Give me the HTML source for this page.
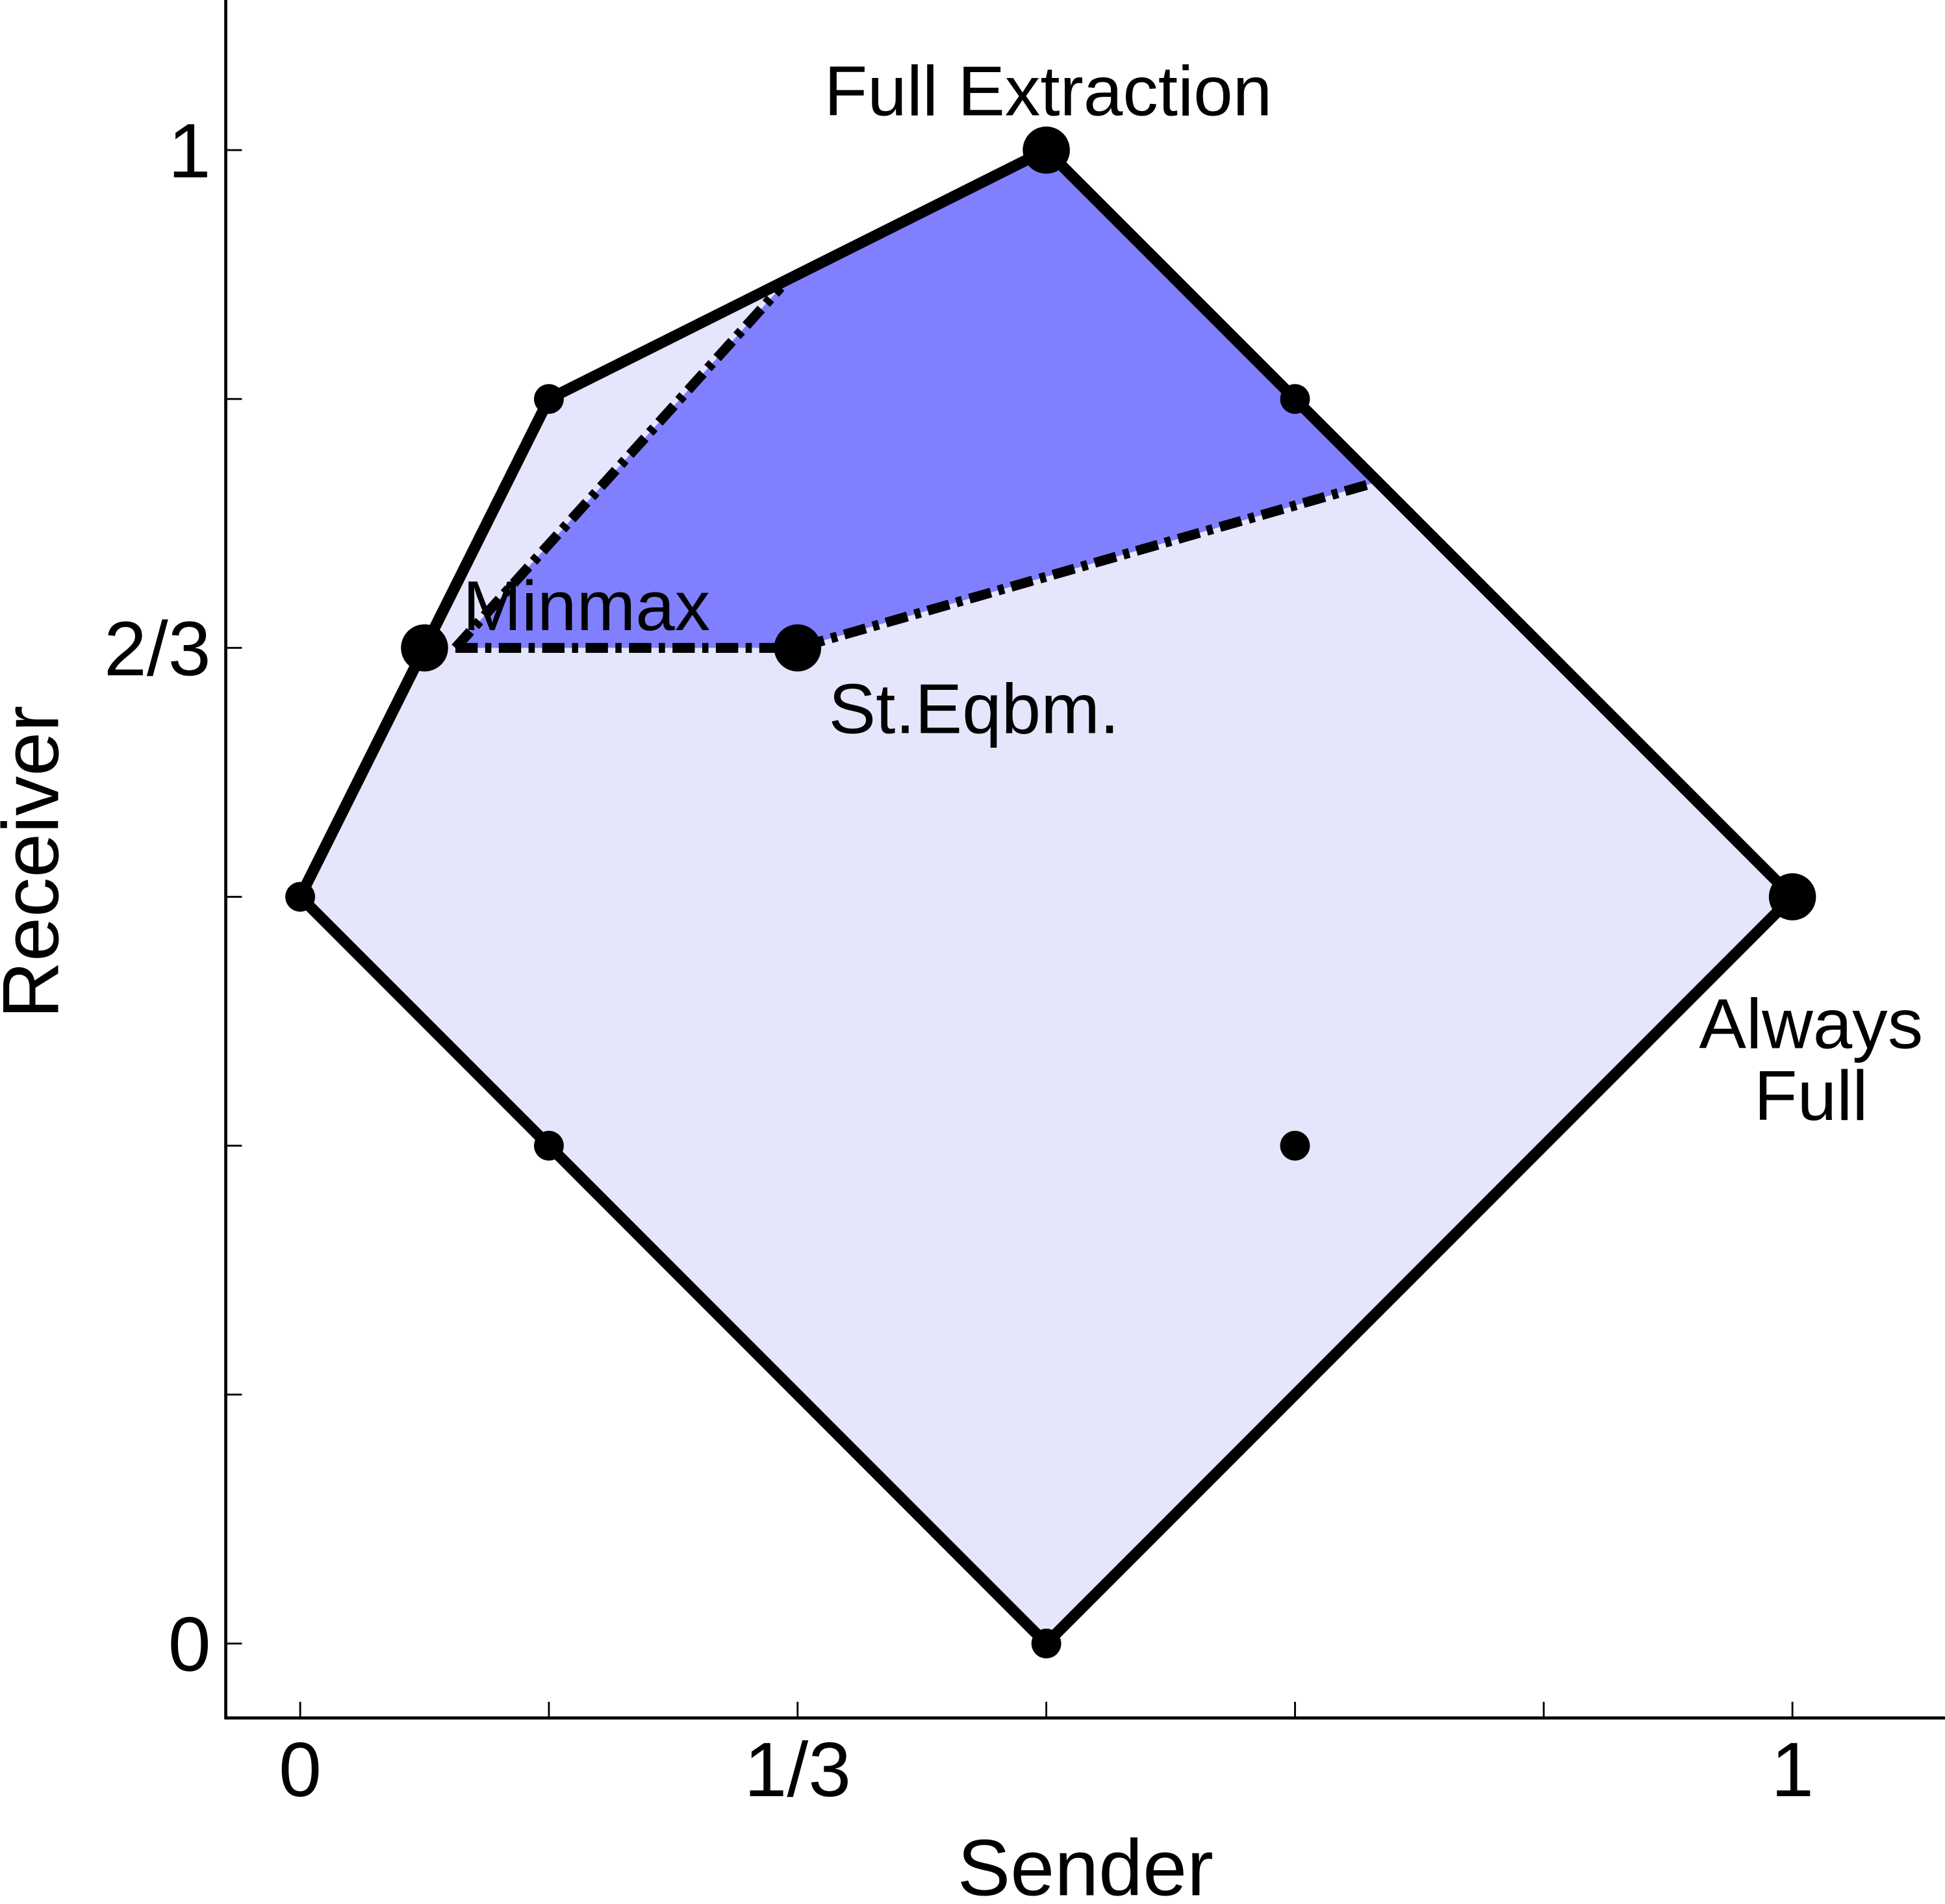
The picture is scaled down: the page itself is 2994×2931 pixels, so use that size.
<!DOCTYPE html>
<html><head><meta charset="utf-8"><style>
html,body{margin:0;padding:0;background:#fff;}
svg{display:block;font-family:"Liberation Sans",sans-serif;}
</style></head><body>
<svg id="chart" width="2994" height="2931" viewBox="0 0 1568 1535" xmlns="http://www.w3.org/2000/svg">
<g id="regions"></g>
<g id="axes"></g>
<g id="marks"></g>
<g id="labels"></g>
</svg>
<script>
// data (sender, receiver payoffs)
const outerS = [0, 1/12, 1/6, 1/2, 1, 1/2];
const outerR = [1/2, 2/3, 5/6, 1, 1/2, 0];
const innerS = [0.104, 0.322, 1/2, 0.719, 1/3];
const innerR = [2/3, 0.908, 1, 0.777, 2/3];
const boundaryS = [0.104, 0.322];
const boundaryR = [2/3, 0.908];
const boundary2S = [0.104, 1/3, 0.719];
const boundary2R = [2/3, 2/3, 0.777];
const bigS = [1/12, 1/3, 1/2, 1];
const bigR = [2/3, 2/3, 1, 1/2];
const smallS = [0, 1/6, 2/3, 1/2, 1/6, 2/3];
const smallR = [1/2, 5/6, 5/6, 0, 1/3, 1/3];
const xTickVals = [0, 1/6, 1/3, 1/2, 2/3, 5/6, 1];
const xTickLabels = ["0", "", "1/3", "", "", "", "1"];
const yTickVals = [0, 1/6, 1/3, 1/2, 2/3, 5/6, 1];
const yTickLabels = ["0", "", "", "", "2/3", "", "1"];

const NS = "http://www.w3.org/2000/svg";
const X = s => 242 + s * 1203;
const Y = r => 1325 - r * 1204;
function el(tag, attrs, parent, text) {
  const e = document.createElementNS(NS, tag);
  for (const k in attrs) e.setAttribute(k, attrs[k]);
  if (text !== undefined) e.textContent = text;
  document.getElementById(parent).appendChild(e);
  return e;
}
const pts = (S, R) => S.map((s, i) => X(s) + "," + Y(R[i])).join(" ");

let e = el("polygon", {points: pts(outerS, outerR), fill: "#e5e5fc", stroke: "none"}, "regions");


e = el("polygon", {points: pts(innerS, innerR), fill: "#8080ff", stroke: "none"}, "regions");


e = el("polyline", {points: pts(boundaryS, boundaryR), fill: "none", stroke: "#000", "stroke-width": 8, "stroke-dasharray": "18 6 5 6"}, "regions");


e = el("polyline", {points: pts(boundary2S, boundary2R), fill: "none", stroke: "#000", "stroke-width": 8, "stroke-dasharray": "18 6 5 6"}, "regions");


e = el("polygon", {points: pts(outerS, outerR), fill: "none", stroke: "#000", "stroke-width": 9, "stroke-linejoin": "round"}, "regions");



// axes
e = el("line", {x1: 182, y1: 0, x2: 182, y2: 1386, stroke: "#000", "stroke-width": 2.5}, "axes");


e = el("line", {x1: 181, y1: 1385, x2: 1568, y2: 1385, stroke: "#000", "stroke-width": 2.5}, "axes");


xTickVals.forEach((v, i) => {
  const t = el("line", {x1: X(v), y1: 1385, x2: X(v), y2: 1372, stroke: "#000", "stroke-width": 1.5}, "axes");
  
  
  if (xTickLabels[i]) {
    const l = el("text", {x: X(v), y: 1448, "font-size": 62, "text-anchor": "middle"}, "axes", xTickLabels[i]);
    
    
  }
});
yTickVals.forEach((v, i) => {
  const t = el("line", {x1: 182, y1: Y(v), x2: 195, y2: Y(v), stroke: "#000", "stroke-width": 1.5}, "axes");
  
  
  if (yTickLabels[i]) {
    const l = el("text", {x: 170, y: Y(v) + 22, "font-size": 62, "text-anchor": "end"}, "axes", yTickLabels[i]);
    
    
  }
});
e = el("text", {x: 875, y: 1528, "font-size": 64, "text-anchor": "middle"}, "axes", "Sender");


e = el("text", {x: 0, y: 0, "font-size": 64, "text-anchor": "middle", transform: "translate(47,695) rotate(-90)"}, "axes", "Receiver");



// points
smallS.forEach((s, i) => {
  const c = el("circle", {cx: X(s), cy: Y(smallR[i]), r: 12, fill: "#000"}, "marks");
  
  
});
bigS.forEach((s, i) => {
  const c = el("circle", {cx: X(s), cy: Y(bigR[i]), r: 19, fill: "#000"}, "marks");
  
  
});

// annotations
const ann = [["Full Extraction", 845, 93, "middle", "full-extraction-label"],
             ["Minmax", 373, 508, "start", "minmax-label"],
             ["St.Eqbm.", 668, 591, "start", "stackelberg-label"],
             ["Always", 1460, 845, "middle", "always-full-label"],
             ["Full", 1460, 903, "middle", "always-full-label-2"]];
ann.forEach(a => {
  const t = el("text", {x: a[1], y: a[2], "font-size": 57, "text-anchor": a[3]}, "labels", a[0]);
  
  
});
</script>
</body></html>
